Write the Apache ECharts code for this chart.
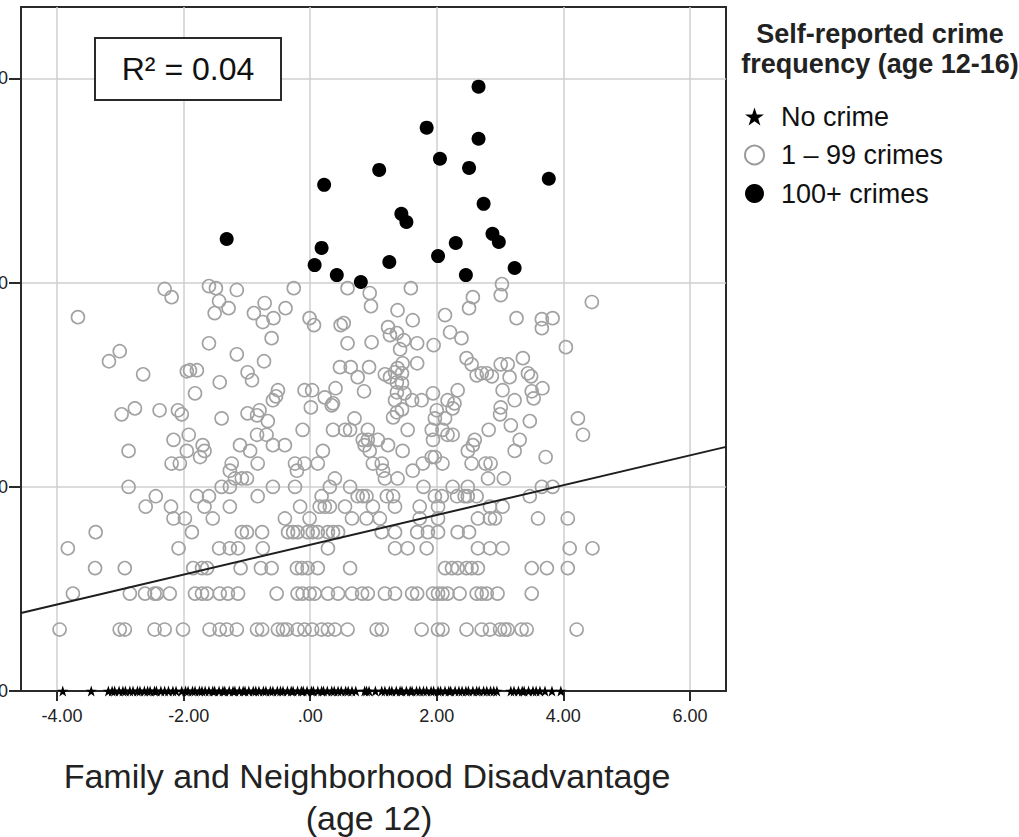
<!DOCTYPE html>
<html><head><meta charset="utf-8">
<script src="https://cdn.jsdelivr.net/npm/echarts@6/dist/echarts.min.js"></script>
<style>html,body{margin:0;padding:0;background:#fff}#c{width:1019px;height:837px}</style>
</head><body><div id="c"></div>
<script>
// ---- data ----
const xTicks = [-4, -2, 0, 2, 4, 6];
const yTicks = [0, 1, 2, 3];
const xRange = [-4.57, 6.57];
const yRange = [0, 3.35];
const legendNames = ['No crime', '1 – 99 crimes', '100+ crimes'];
const rSquaredText = 'R² = 0.04';
const fitIntercept = 0.716;
const fitSlope = 0.073;

// No crime: x positions (y = 0)
const noCrimeX = [-3.91,-3.46,-3.19,-3.13,-3.09,-3.02,-2.96,-2.92,-2.85,-2.80,-2.73,-2.69,-2.62,-2.57,-2.53,-2.46,-2.43,-2.36,-2.30,-2.24,-2.17,-2.12,
-2.03,-1.97,-1.93,-1.86,-1.82,-1.75,-1.71,-1.66,-1.60,-1.54,-1.51,-1.44,-1.38,-1.35,-1.28,-1.22,-1.19,-1.12,-1.06,-1.03,-0.97,-0.90,-0.86,-0.81,
-0.74,-0.70,-0.63,-0.59,-0.52,-0.47,-0.43,-0.36,-0.30,-0.27,-0.20,-0.14,-0.11,-0.05,0.02,0.05,0.12,0.18,0.21,0.27,0.34,0.38,0.44,0.49,0.56,0.60,
0.66,0.72,0.86,0.89,0.93,1.03,1.13,1.18,1.25,1.29,1.36,1.42,1.45,1.52,1.58,1.61,1.68,1.73,1.79,1.84,1.91,1.95,2.02,2.06,2.13,2.19,2.22,2.29,2.35,
2.40,2.46,2.50,2.57,2.63,2.67,2.74,2.79,2.85,2.90,2.95,3.17,3.22,3.29,3.35,3.38,3.45,3.52,3.57,3.63,3.71,3.82,3.96];

// 1-99 crimes: [disadvantage, log10(crimes+1)]
const lowCrime = [
[-2.30,1.969],[-2.19,1.929],[-3.67,1.831],[-1.60,1.983],[-1.49,1.973],[-1.44,1.910],[-1.51,1.851],[-1.60,1.703],[-3.01,1.664],[-3.18,1.615],
[-2.64,1.551],[-1.95,1.566],[-1.90,1.571],[-1.79,1.571],[-1.43,1.512],[-1.82,1.458],
[-2.98,1.355],[-2.77,1.384],[-2.38,1.375],[-2.09,1.375],[-2.03,1.355],[-1.40,1.335],[-2.87,1.176],[-2.16,1.230],[-1.92,1.255],[-1.95,1.176],
[-1.70,1.204],[-1.67,1.176],[-1.74,1.146],[-2.19,1.114],[-2.06,1.114],[-2.87,1.000],[-2.44,0.954],[-2.60,0.903],[-2.20,0.903],[-2.16,0.845],
[-1.98,0.845],[-1.79,0.954],[-1.60,0.954],[-1.67,0.903],[-1.54,0.845],[-1.40,1.000],[-1.87,0.778],[-3.39,0.778],
[-3.96,0.301],[-3.01,0.301],[-2.93,0.301],[-2.46,0.301],[-2.30,0.301],[-2.01,0.301],[-1.59,0.301],[-1.43,0.301],
[-3.75,0.477],[-2.85,0.477],[-2.61,0.477],[-2.46,0.477],[-2.42,0.477],[-2.22,0.477],[-1.82,0.477],[-1.71,0.477],[-1.63,0.477],[-1.43,0.477],
[-3.40,0.602],[-2.93,0.602],[-1.85,0.602],[-1.71,0.602],[-1.63,0.602],
[-3.83,0.699],[-2.08,0.699],[-1.44,0.699],
[-1.16,1.964],[-0.26,1.973],[-1.29,1.875],[-0.72,1.900],[-0.89,1.851],[-0.58,1.826],[-0.75,1.807],[-0.39,1.875],[-0.01,1.826],[0.06,1.792],
[-0.61,1.728],[-1.16,1.649],[-0.73,1.615],[-0.99,1.561],[-0.92,1.522],[-0.51,1.473],[-0.54,1.443],[-0.59,1.424],[-0.09,1.473],[0.03,1.473],
[0.23,1.438],[0.36,1.409],[0.40,1.483],[0.59,1.973],[0.94,1.949],[0.96,1.885],[1.38,1.865],[1.59,1.973],[1.62,1.816],[0.48,1.792],
[0.53,1.802],[0.59,1.703],[0.97,1.708],[1.23,1.782],[1.26,1.743],[1.37,1.753],[1.48,1.718],[1.42,1.674],[1.69,1.703],[0.47,1.586],
[0.64,1.586],[0.75,1.537],[0.93,1.586],[0.85,1.468],[1.18,1.551],[1.26,1.537],[1.34,1.561],[1.38,1.581],[1.45,1.556],[1.46,1.605],
[1.37,1.512],[1.45,1.507],[1.37,1.463],[1.49,1.458],[1.61,1.424],[1.34,1.424],
[-0.99,1.360],[-0.84,1.350],[-0.80,1.375],[-0.67,1.322],[0.01,1.389],[0.34,1.399],[-0.12,1.279],[-0.84,1.255],[-0.69,1.255],[-1.11,1.204],
[-0.95,1.176],[-0.59,1.204],[-0.40,1.204],[0.36,1.279],[0.55,1.279],[0.63,1.279],[0.70,1.335],[0.91,1.279],[0.83,1.230],[0.86,1.204],
[0.91,1.230],[1.07,1.230],[0.94,1.176],[1.23,1.204],[1.46,1.176],[1.54,1.279],[1.31,1.340],[1.37,1.365],[1.45,1.379],[0.20,1.176],
[-1.24,1.114],[-1.27,1.079],[-0.83,1.114],[-0.24,1.114],[-0.21,1.079],[-0.09,1.114],[0.12,1.114],[-1.19,1.041],[-1.08,1.041],[-1.00,1.041],
[0.99,1.114],[1.13,1.114],[1.15,1.079],[1.18,1.041],[1.38,1.041],[1.62,1.079],[-1.27,1.000],[-0.59,1.000],[-0.24,1.000],[0.39,1.041],
[0.31,1.000],[0.63,1.000],[0.75,0.954],[0.83,0.954],[0.89,0.954],[1.21,0.954],[1.31,0.954],[-0.83,0.954],[0.18,0.954],
[-1.27,0.903],[-0.16,0.903],[0.15,0.903],[0.23,0.903],[0.31,0.903],[0.55,0.903],[0.99,0.903],[1.34,0.903],
[-0.40,0.845],[-0.01,0.845],[0.66,0.845],[0.89,0.845],[1.10,0.845],
[-1.08,0.778],[-1.00,0.778],[-0.76,0.778],[-0.35,0.778],[-0.27,0.778],[-0.20,0.778],[-0.04,0.778],[0.04,0.778],[0.12,0.778],[0.28,0.778],
[0.36,0.778],[0.44,0.778],[1.13,0.778],[1.34,0.778],[1.69,0.778],
[-1.27,0.699],[-1.14,0.699],[-0.75,0.699],[0.28,0.699],[1.34,0.699],[1.54,0.699],
[-1.10,0.602],[-0.78,0.602],[-0.61,0.602],[-0.21,0.602],[-0.13,0.602],[-0.04,0.602],[0.12,0.602],[0.63,0.602],
[-1.30,0.477],[-1.14,0.477],[-0.53,0.477],[-0.20,0.477],[-0.12,0.477],[-0.01,0.477],[0.07,0.477],[0.28,0.477],[0.44,0.477],[0.66,0.477],
[0.82,0.477],[0.91,0.477],[1.18,0.477],[1.34,0.477],[1.61,0.477],[1.69,0.477],
[-1.32,0.301],[-1.16,0.301],[-0.84,0.301],[-0.76,0.301],[-0.51,0.301],[-0.43,0.301],[-0.37,0.301],[-0.20,0.301],[-0.09,0.301],[0.03,0.301],
[0.18,0.301],[0.28,0.301],[0.39,0.301],[0.59,0.301],[1.05,0.301],[1.13,0.301],
[1.69,1.605],[1.95,1.694],[2.13,1.841],[2.21,1.757],[2.39,1.728],[2.57,1.929],[2.51,1.875],[3.03,1.993],[3.01,1.939],[3.26,1.826],
[3.66,1.821],[3.83,1.826],[3.66,1.777],[4.45,1.905],[4.04,1.684],[2.47,1.630],[2.55,1.600],[2.63,1.546],[2.71,1.556],[2.79,1.556],
[2.87,1.541],[3.01,1.600],[3.12,1.600],[3.15,1.537],[3.36,1.630],[3.44,1.556],[3.49,1.541],[3.67,1.483],[3.50,1.468],[3.53,1.433],
[3.04,1.473],[3.23,1.424],[2.33,1.473],[1.94,1.458],[1.76,1.424],[2.17,1.424],[2.28,1.409],
[2.00,1.375],[1.97,1.335],[2.13,1.335],[2.25,1.384],[3.00,1.355],[3.01,1.389],[1.92,1.279],[1.94,1.230],[2.09,1.279],[2.17,1.255],
[2.25,1.255],[2.82,1.279],[3.17,1.301],[3.47,1.322],[4.23,1.335],[4.31,1.255],[2.60,1.230],[2.57,1.204],[2.49,1.176],[3.31,1.230],
[3.23,1.176],[1.92,1.146],[1.97,1.146],[2.09,1.114],[2.55,1.114],[2.77,1.114],[2.85,1.114],[3.72,1.146],[2.81,1.041],[3.06,1.041],
[1.79,1.000],[2.25,1.000],[2.49,1.000],[3.66,1.000],[3.83,1.000],[1.97,0.954],[2.08,0.954],[2.32,0.954],[2.44,0.954],[2.49,0.954],
[2.63,0.954],[3.47,0.954],[1.73,0.903],[2.02,0.903],[2.84,0.903],[3.04,0.903],[2.02,0.845],[2.65,0.845],[2.84,0.845],[2.92,0.845],
[3.60,0.845],[4.07,0.845],[1.73,0.845],[1.78,1.114],
[1.86,0.778],[2.02,0.778],[2.33,0.778],[2.51,0.778],
[1.84,0.699],[2.65,0.699],[2.84,0.699],[3.04,0.699],[4.10,0.699],[4.46,0.699],
[2.13,0.602],[2.24,0.602],[2.33,0.602],[2.47,0.602],[2.55,0.602],[2.65,0.602],[3.50,0.602],[3.74,0.602],[4.07,0.602],
[1.94,0.477],[2.02,0.477],[2.09,0.477],[2.17,0.477],[2.36,0.477],[2.63,0.477],[2.71,0.477],[2.79,0.477],[2.96,0.477],[3.50,0.477],
[1.76,0.301],[2.02,0.301],[2.09,0.301],[2.47,0.301],[2.71,0.301],[2.84,0.301],[3.00,0.301],[3.07,0.301],[3.12,0.301],[3.34,0.301],
[3.42,0.301],[4.21,0.301]
];

// 100+ crimes
const highCrime = [
[-1.32,2.214],[0.22,2.479],[0.18,2.170],[0.07,2.086],[0.42,2.037],[0.80,2.003],[1.09,2.552],[1.25,2.101],[1.44,2.337],[1.52,2.297],
[1.84,2.759],[2.05,2.607],[2.02,2.130],[2.30,2.194],[2.51,2.562],[2.46,2.037],[2.66,2.960],[2.66,2.705],[2.74,2.386],[2.88,2.239],
[2.98,2.199],[3.23,2.072],[3.77,2.509]
];

// ---- chart ----
const FONT = '"Liberation Sans", Arial, sans-serif';
const STAR = 'path://M50 0 L61.8 35.1 L98.6 35.1 L68.8 56.7 L80.2 91.8 L50 70.2 L19.8 91.8 L31.2 56.7 L1.4 35.1 L38.2 35.1 Z';
const fmt = v => (v === 0 ? '.00' : v.toFixed(2));
const xFmt = v => (v < 0 ? '{n|' + fmt(v) + '}' : fmt(v));
const fitLine = xRange.map(x => [x, fitIntercept + fitSlope * x]);

const chart = echarts.init(document.getElementById('c'), null, {renderer: 'svg'});
chart.setOption({
  animation: false,
  backgroundColor: '#fff',
  grid: {left: 21, top: 7, right: 1019 - 726, bottom: 837 - 691, containLabel: false, outerBoundsMode: 'none',
         show: true, borderColor: '#2a2a2a', borderWidth: 2},
  xAxis: {
    type: 'value', min: xRange[0], max: xRange[1],
    axisLine: {onZero: false, lineStyle: {color: '#2a2a2a', width: 2}},
    axisTick: {customValues: xTicks, inside: false, length: 10, lineStyle: {color: '#2a2a2a', width: 2}},
    axisLabel: {customValues: xTicks, formatter: xFmt, margin: 16, fontSize: 18, fontFamily: FONT, color: '#222',
                rich: {n: {fontSize: 18, fontFamily: FONT, color: '#222', padding: [0, 0, 0, 10]}}},
    splitLine: {show: true, lineStyle: {color: '#cfcfcf', width: 1.5}}
  },
  yAxis: {
    type: 'value', min: yRange[0], max: yRange[1],
    axisLine: {onZero: false, lineStyle: {color: '#2a2a2a', width: 2}},
    axisTick: {customValues: yTicks, inside: false, length: 12, lineStyle: {color: '#2a2a2a', width: 2}},
    axisLabel: {customValues: yTicks, formatter: fmt, margin: 13, fontSize: 18, fontFamily: FONT, color: '#222'},
    splitLine: {show: true, lineStyle: {color: '#cfcfcf', width: 1.5}}
  },
  legend: {
    orient: 'vertical', left: 744, top: 103, padding: 0,
    itemWidth: 19, itemHeight: 19, itemGap: 11.5, itemTextGap: 18,
    textStyle: {fontSize: 27, fontFamily: FONT, color: '#111', lineHeight: 27, padding: [0, 0, 0, 12]},
    data: [
      {name: legendNames[0], icon: STAR, itemStyle: {color: '#000', opacity: 1}},
      {name: legendNames[1], icon: 'circle', itemStyle: {color: '#fff', borderColor: '#9a9a9a', borderWidth: 2, opacity: 1}},
      {name: legendNames[2], icon: 'circle', itemStyle: {color: '#000', opacity: 1}}
    ]
  },
  series: [
    {name: legendNames[0], type: 'scatter', z: 3, symbol: STAR, symbolSize: 11, clip: false,
     itemStyle: {color: '#000', opacity: 1}, data: noCrimeX.map(x => [x, 0])},
    {name: legendNames[1], type: 'scatter', z: 3, symbol: 'circle', symbolSize: 13,
     itemStyle: {color: 'rgba(255,255,255,0)', borderColor: '#a2a2a2', borderWidth: 1.6, opacity: 1}, data: lowCrime},
    {name: legendNames[2], type: 'scatter', z: 4, symbol: 'circle', symbolSize: 14,
     itemStyle: {color: '#000', opacity: 1}, data: highCrime},
    {name: 'fit', type: 'line', z: 5, showSymbol: false, symbol: 'none', silent: true,
     lineStyle: {color: '#1e1e1e', width: 2}, data: fitLine}
  ],
  graphic: [
    {type: 'rect', shape: {x: 95, y: 38, width: 186, height: 62}, style: {fill: '#fff', stroke: '#2a2a2a', lineWidth: 2}, z: 10},
    {type: 'text', x: 188, y: 69, z: 11, style: {text: rSquaredText, font: '32px ' + FONT, fill: '#111', textAlign: 'center', textVerticalAlign: 'middle'}},
    {type: 'text', x: 880, y: 34, style: {text: 'Self-reported crime', font: 'bold 27px ' + FONT, fill: '#222', textAlign: 'center', textVerticalAlign: 'middle'}},
    {type: 'text', x: 880, y: 64, style: {text: 'frequency (age 12-16)', font: 'bold 27px ' + FONT, fill: '#222', textAlign: 'center', textVerticalAlign: 'middle'}},
    {type: 'text', x: 367, y: 776, style: {text: 'Family and Neighborhood Disadvantage', font: '34px ' + FONT, fill: '#222', textAlign: 'center', textVerticalAlign: 'middle'}},
    {type: 'text', x: 369, y: 818, style: {text: '(age 12)', font: '34px ' + FONT, fill: '#222', textAlign: 'center', textVerticalAlign: 'middle'}}
  ]
});
</script>
</body></html>
